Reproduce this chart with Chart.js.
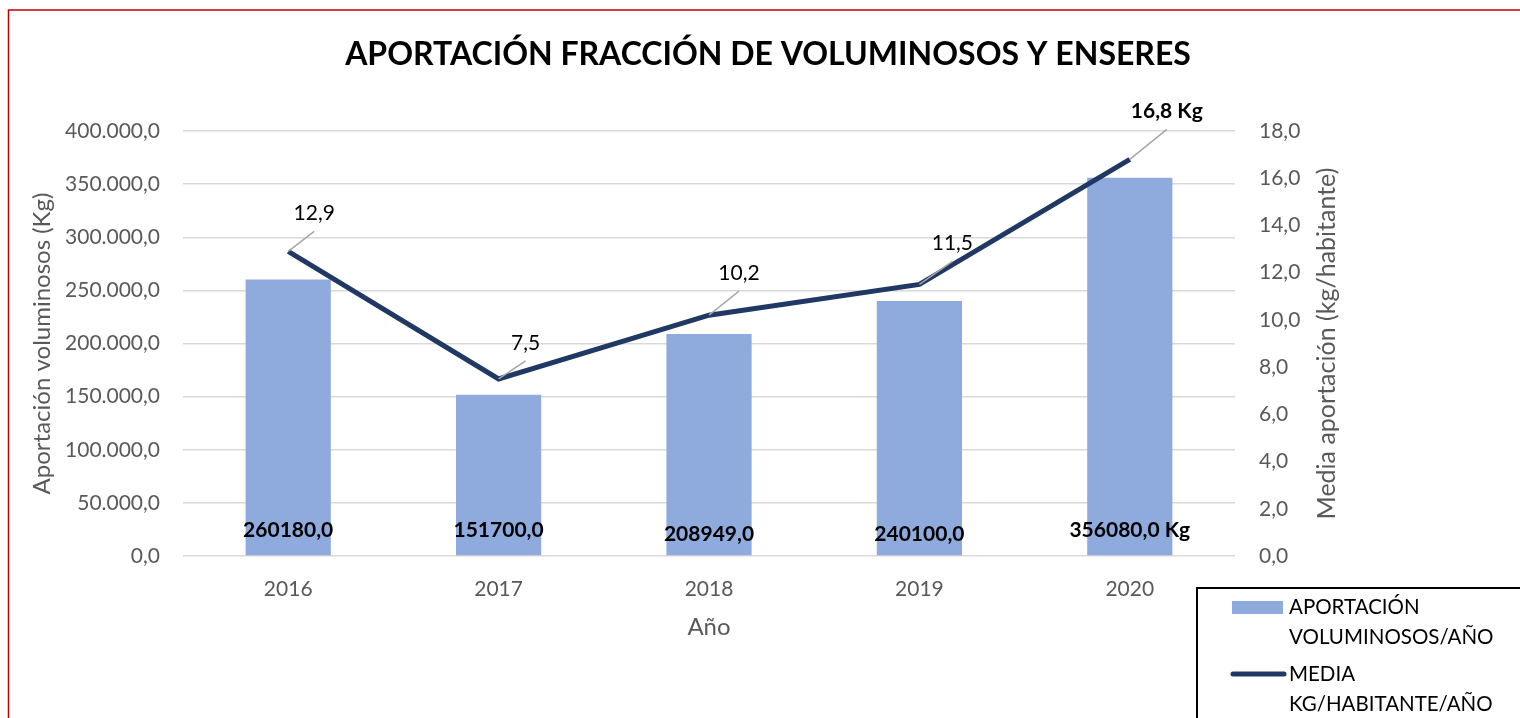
<!DOCTYPE html>
<html>
<head>
<meta charset="utf-8">
<script src="https://cdn.jsdelivr.net/npm/chart.js@4/dist/chart.umd.min.js"></script>
<style>
  html, body { margin: 0; padding: 0; background: #fff; }
  canvas { display: block; }
</style>
</head>
<body>
<canvas id="myChart" width="1520" height="718"></canvas>
<script>
// Datos
const years = ['2016', '2017', '2018', '2019', '2020'];
const totalKg = [260180, 151700, 208949, 240100, 356080];
const kgPerInhabitant = [12.9, 7.5, 10.2, 11.5, 16.8];
const leftTicks = [0, 50000, 100000, 150000, 200000, 250000, 300000, 350000, 400000];
const rightTicks = [0, 2, 4, 6, 8, 10, 12, 14, 16, 18];

const FONT = 'Lato, "Open Sans", sans-serif';
const BAR_COLOR = '#8faadc';
const LINE_COLOR = '#203864';
const GREY = '#595959';

// "400.000,0" style
function fmtThousands(v) {
  const s = Math.round(v).toString().replace(/\B(?=(\d{3})+(?!\d))/g, '.');
  return s + ',0';
}
function fmtDec(v) {
  return v.toFixed(1).replace('.', ',');
}

// leader line offsets for the line labels (Excel style callouts)
const lineLabelOffsets = [[26, -20], [27, -18], [30, -24], [33, -23], [37, -30]];
const barLabelShift = [0, 0, 4, 4, 0];

const extrasPlugin = {
  id: 'extras',
  beforeDraw(chart) {
    const ctx = chart.ctx;
    ctx.save();
    ctx.fillStyle = '#fff';
    ctx.fillRect(0, 0, chart.width, chart.height);
    // red frame
    ctx.strokeStyle = '#c00000';
    ctx.lineWidth = 1.5;
    ctx.strokeRect(8.5, 10, chart.width + 20, chart.height + 20);
    ctx.restore();
  },
  afterDatasetsDraw(chart) {
    const ctx = chart.ctx;
    ctx.save();

    // bar value labels, near the base
    const barMeta = chart.getDatasetMeta(0);
    const yScale = chart.scales.y;
    ctx.font = 'bold 21px ' + FONT;
    ctx.fillStyle = '#000';
    ctx.textAlign = 'center';
    ctx.textBaseline = 'middle';
    barMeta.data.forEach((bar, i) => {
      let txt = totalKg[i].toFixed(1).replace('.', ',');
      if (i === totalKg.length - 1) txt += ' Kg';
      ctx.fillText(txt, bar.x, yScale.getPixelForValue(0) - 26 + barLabelShift[i]);
    });

    // line value labels with leader lines
    const lineMeta = chart.getDatasetMeta(1);
    lineMeta.data.forEach((pt, i) => {
      const [dx, dy] = lineLabelOffsets[i];
      ctx.strokeStyle = '#a6a6a6';
      ctx.lineWidth = 1.5;
      ctx.beginPath();
      ctx.moveTo(pt.x, pt.y);
      ctx.lineTo(pt.x + dx, pt.y + dy);
      ctx.stroke();
      const last = i === kgPerInhabitant.length - 1;
      ctx.font = (last ? 'bold ' : '') + '21px ' + FONT;
      ctx.fillStyle = '#000';
      ctx.fillText(fmtDec(kgPerInhabitant[i]) + (last ? ' Kg' : ''), pt.x + dx, pt.y + dy - 18);
    });
    ctx.restore();
  },
  afterDraw(chart) {
    const ctx = chart.ctx;
    ctx.save();
    // title
    ctx.font = 'bold 32px ' + FONT;
    ctx.fillStyle = '#000';
    ctx.textAlign = 'center';
    ctx.textBaseline = 'middle';
    ctx.fillText('APORTACIÓN FRACCIÓN DE VOLUMINOSOS Y ENSERES', 768, 55);

    // right axis title, reading bottom to top like Excel
    const y1 = chart.scales.y1;
    ctx.save();
    ctx.translate(1327, (y1.top + y1.bottom) / 2);
    ctx.rotate(-Math.PI / 2);
    ctx.font = '25px ' + FONT;
    ctx.fillStyle = GREY;
    ctx.fillText('Media aportación (kg/habitante)', 0, 0);
    ctx.restore();

    // legend box
    ctx.strokeStyle = '#000';
    ctx.lineWidth = 2;
    ctx.strokeRect(1197, 588, 400, 200);
    ctx.font = '20.5px ' + FONT;
    ctx.textAlign = 'left';
    const ds = chart.data.datasets;
    // bars
    ctx.fillStyle = ds[0].backgroundColor;
    ctx.fillRect(1232, 601, 51, 13);
    // line
    ctx.strokeStyle = ds[1].borderColor;
    ctx.lineWidth = 5;
    ctx.lineCap = 'round';
    ctx.beginPath();
    ctx.moveTo(1233, 674);
    ctx.lineTo(1284, 674);
    ctx.stroke();
    ctx.fillStyle = '#000';
    const rows = [[ds[0].label, 607], [ds[1].label, 674]];
    rows.forEach(([label, y]) => {
      const cut = label.indexOf(' ');
      ctx.fillText(label.slice(0, cut), 1289, y);
      ctx.fillText(label.slice(cut + 1), 1289, y + 30);
    });
    ctx.restore();
  }
};

const ctx = document.getElementById('myChart').getContext('2d');
const myChart = new Chart(ctx, {
  data: {
    labels: years,
    datasets: [
      {
        type: 'bar',
        label: 'APORTACIÓN VOLUMINOSOS/AÑO',
        data: totalKg,
        yAxisID: 'y',
        backgroundColor: BAR_COLOR,
        categoryPercentage: 1,
        barPercentage: 0.405,
        order: 1
      },
      {
        type: 'line',
        label: 'MEDIA KG/HABITANTE/AÑO',
        data: kgPerInhabitant,
        yAxisID: 'y1',
        borderColor: LINE_COLOR,
        borderWidth: 5,
        pointRadius: 0,
        tension: 0,
        order: 0
      }
    ]
  },
  options: {
    responsive: false,
    animation: false,
    layout: { padding: { top: 131, left: 0, right: 0, bottom: 0 } },
    plugins: {
      legend: { display: false },
      title: { display: false },
      tooltip: { enabled: false }
    },
    scales: {
      x: {
        grid: { display: false },
        border: { display: false },
        ticks: { color: GREY, font: { family: FONT, size: 21 }, padding: 13, maxRotation: 0 },
        title: { display: true, text: 'Año', color: GREY, font: { family: FONT, size: 24 }, padding: { bottom: 76 } },
        afterFit(scale) { scale.height = 162; }
      },
      y: {
        position: 'left',
        min: 0,
        max: 400000,
        afterBuildTicks(scale) { scale.ticks = leftTicks.map(v => ({ value: v })); },
        grid: { color: '#d9d9d9', lineWidth: 1.5, drawTicks: false },
        border: { display: false },
        ticks: { color: GREY, font: { family: FONT, size: 21 }, padding: 23, callback: v => fmtThousands(v) },
        title: { display: true, text: 'Aportación voluminosos (Kg)', color: GREY, font: { family: FONT, size: 24 }, padding: { top: 28 } },
        afterFit(scale) { scale.width = 183; }
      },
      y1: {
        position: 'right',
        min: 0,
        max: 18,
        afterBuildTicks(scale) { scale.ticks = rightTicks.map(v => ({ value: v })); },
        grid: { display: false, drawTicks: false },
        border: { display: false },
        ticks: { color: GREY, font: { family: FONT, size: 21 }, padding: 24, callback: v => fmtDec(v) },
        title: { display: false },
        afterFit(scale) { scale.width = 285; }
      }
    }
  },
  plugins: [extrasPlugin]
});
</script>
</body>
</html>
